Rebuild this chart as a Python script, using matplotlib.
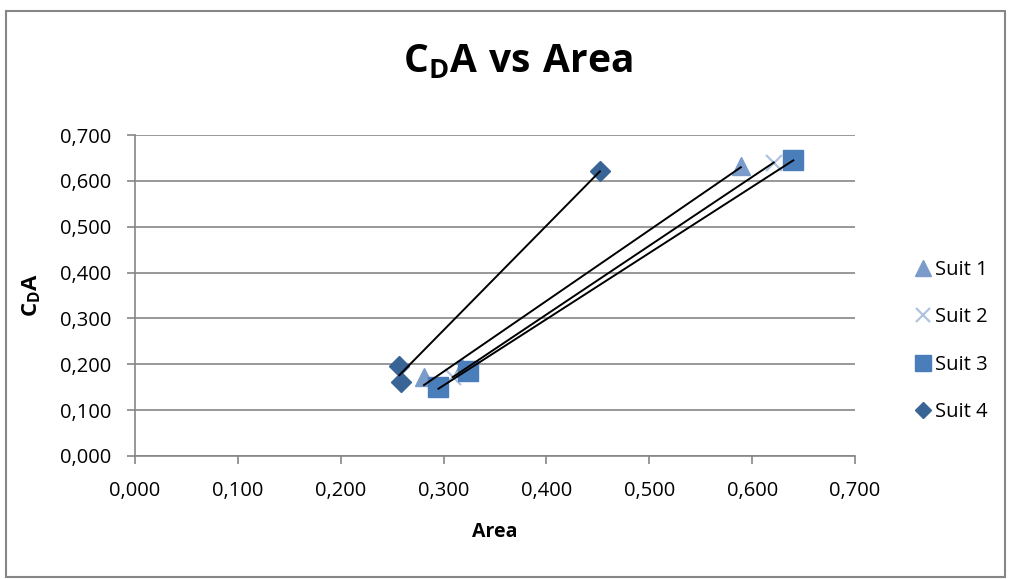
import numpy as np
import matplotlib
matplotlib.use("Agg")
import matplotlib.pyplot as plt
from matplotlib.patches import Rectangle
from matplotlib.ticker import FuncFormatter, MultipleLocator

plt.rcParams['font.family'] = ['Open Sans', 'DejaVu Sans']
plt.rcParams['mathtext.fontset'] = 'custom'
plt.rcParams['mathtext.rm'] = 'Open Sans'
plt.rcParams['mathtext.bf'] = 'Open Sans:bold'

# Measured frontal area and drag area for each suit
suit1_area = [0.281, 0.318, 0.589]
suit1_cda = [0.172, 0.192, 0.632]
suit2_area = [0.309, 0.621]
suit2_cda = [0.172, 0.640]
suit3_area = [0.295, 0.324, 0.640]
suit3_cda = [0.150, 0.185, 0.645]
suit4_area = [0.257, 0.259, 0.452]
suit4_cda = [0.196, 0.161, 0.621]

series = [
    ("Suit 1", suit1_area, suit1_cda, dict(marker='^', color='#7B9BCB', ms=13, mec='#7B9BCB')),
    ("Suit 2", suit2_area, suit2_cda, dict(marker='x', color='#AFC3E0', ms=12, mew=1.6)),
    ("Suit 3", suit3_area, suit3_cda, dict(marker='s', color='#4A7EBB', ms=14, mec='#4A7EBB')),
    ("Suit 4", suit4_area, suit4_cda, dict(marker='D', color='#386496', ms=10, mec='#386496')),
]

fig = plt.figure(figsize=(10.11, 5.79), dpi=100)
fig.patches.append(Rectangle((5.5 / 1011, 1 - 576.5 / 579), 999.5 / 1011, 566 / 579,
                             transform=fig.transFigure, fill=False,
                             edgecolor='#868686', linewidth=1.5))

ax = fig.add_axes([135 / 1011, 1 - 456 / 579, 720 / 1011, 321 / 579])

for name, xs, ys, style in series:
    ax.plot(xs, ys, linestyle='none', label=name, zorder=3, **style)

# Linear trendline for each suit over its own area range
for name, xs, ys, style in series:
    k, b = np.polyfit(xs, ys, 1)
    xr = np.array([min(xs), max(xs)])
    ax.plot(xr, k * xr + b, color='black', lw=1.4, zorder=4)

ax.set_xlim(0, 0.7)
ax.set_ylim(0, 0.7)
ax.xaxis.set_major_locator(MultipleLocator(0.1))
ax.yaxis.set_major_locator(MultipleLocator(0.1))
fmt = FuncFormatter(lambda v, p: f"{v:.3f}".replace('.', ','))
ax.xaxis.set_major_formatter(fmt)
ax.yaxis.set_major_formatter(fmt)

ax.grid(axis='y', color='#868686', lw=1.2)
ax.set_axisbelow(True)
for s in ('top', 'right'):
    ax.spines[s].set_visible(False)
for s in ('left', 'bottom'):
    ax.spines[s].set_color('#868686')
    ax.spines[s].set_linewidth(1.2)
ax.tick_params(axis='both', colors='#868686', labelcolor='black', labelsize=14.5,
               length=6, width=1.2)
ax.tick_params(axis='x', direction='out', pad=12)
ax.tick_params(axis='y', direction='out', pad=11)

ax.set_xlabel("Area", fontsize=14, fontweight='bold', labelpad=15)
ax.set_ylabel(r"$\mathbf{C_{D}A}$", fontsize=16, labelpad=12)

fig.text(518 / 1011, 1 - 62 / 579, r"$\mathbf{C_{D}A\ vs\ Area}$", fontsize=28,
         ha='center', va='center')

ax.legend(loc='center left', bbox_to_anchor=(1.052, 0.358), frameon=False,
          fontsize=14.5, handletextpad=0.0, labelspacing=1.35, markerscale=0.85,
          handlelength=1.2)

fig.savefig("out.png", dpi=100)
